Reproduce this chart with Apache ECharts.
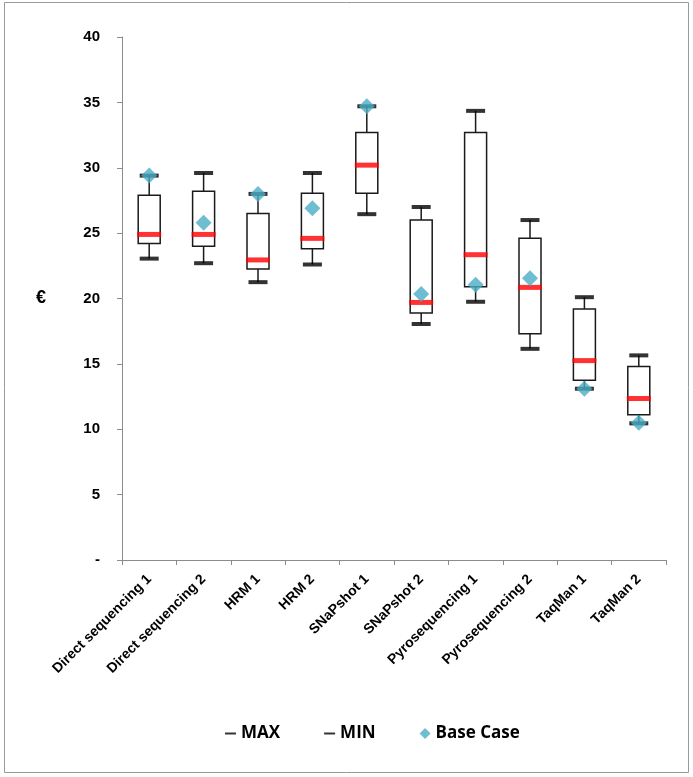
<!DOCTYPE html>
<html>
<head>
<meta charset="utf-8">
<script src="https://cdn.jsdelivr.net/npm/echarts@6/dist/echarts.min.js"></script>
<style>
  html, body { margin: 0; padding: 0; background: #fff; }
  #chart { width: 693px; height: 777px; }
</style>
</head>
<body>
<div id="chart"></div>
<script>
// values (€)
var categories = ['Direct sequencing 1', 'Direct sequencing 2', 'HRM 1', 'HRM 2', 'SNaPshot 1',
                  'SNaPshot 2', 'Pyrosequencing 1', 'Pyrosequencing 2', 'TaqMan 1', 'TaqMan 2'];
var maxVals  = [29.4, 29.6, 28.0, 29.6, 34.7, 27.0, 34.35, 26.0, 20.1, 15.65];
var minVals  = [23.05, 22.7, 21.25, 22.6, 26.45, 18.05, 19.75, 16.15, 13.1, 10.45];
var boxHigh  = [27.9, 28.2, 26.5, 28.05, 32.7, 26.0, 32.7, 24.6, 19.2, 14.8];
var boxLow   = [24.2, 24.0, 22.25, 23.8, 28.05, 18.9, 20.9, 17.3, 13.75, 11.1];
var medians  = [24.9, 24.9, 22.95, 24.6, 30.2, 19.7, 23.35, 20.85, 15.25, 12.35];
var baseCase = [29.4, 25.8, 28.0, 26.9, 34.7, 20.35, 21.05, 21.55, 13.1, 10.5];
var yTicks = { min: 0, max: 40, step: 5 };

// [category index, min, box low, box high, max]
var rangeData = categories.map(function (c, i) {
    return [i, minVals[i], boxLow[i], boxHigh[i], maxVals[i]];
});

var chart = echarts.init(document.getElementById('chart'));
var font = 'Liberation Sans, Arial, sans-serif';
var dash = 'path://M0,0h10v1.8h-10z';

function renderRange(params, api) {
    var i = api.value(0);
    var pMin = api.coord([i, api.value(1)]);
    var pLow = api.coord([i, api.value(2)]);
    var pHigh = api.coord([i, api.value(3)]);
    var pMax = api.coord([i, api.value(4)]);
    var half = 11;
    var stroke = { stroke: '#1a1a1a', lineWidth: 1.5, fill: null };
    return {
        type: 'group',
        children: [
            { type: 'line', shape: { x1: pMax[0], y1: pMax[1], x2: pHigh[0], y2: pHigh[1] }, style: stroke },
            { type: 'line', shape: { x1: pLow[0], y1: pLow[1], x2: pMin[0], y2: pMin[1] }, style: stroke },
            {
                type: 'rect',
                shape: { x: pHigh[0] - half, y: pHigh[1], width: half * 2, height: pLow[1] - pHigh[1] },
                style: { fill: '#fff', stroke: '#1a1a1a', lineWidth: 1.5 }
            }
        ]
    };
}

chart.setOption({
    animation: false,
    backgroundColor: '#fff',
    graphic: [{
        type: 'rect',
        shape: { x: 4.5, y: 2.5, width: 684, height: 770 },
        style: { fill: 'none', stroke: '#9a9a9a', lineWidth: 1 },
        silent: true
    }],
    grid: { left: 122, right: 27, top: 37, bottom: 217, containLabel: false },
    legend: {
        top: 720,
        left: 220,
        itemGap: 44,
        itemWidth: 11,
        itemHeight: 11,
        textStyle: { fontFamily: 'Open Sans, Noto Sans, sans-serif', fontWeight: 'bold', fontSize: 17, color: '#000' },
        data: [
            { name: 'MAX', icon: dash, itemStyle: { color: '#000' } },
            { name: 'MIN', icon: dash, itemStyle: { color: '#000' } },
            { name: 'Base Case', icon: 'diamond', itemStyle: { color: '#4BACC6' } }
        ]
    },
    xAxis: {
        type: 'category',
        data: categories,
        boundaryGap: true,
        axisLine: { lineStyle: { color: '#8c8c8c', width: 1 } },
        axisTick: { show: true, interval: 0, length: 5, lineStyle: { color: '#8c8c8c' } },
        axisLabel: {
            interval: 0, rotate: 45, margin: 17,
            fontFamily: font, fontWeight: 'bold', fontSize: 14, color: '#000'
        },
        splitLine: { show: false }
    },
    yAxis: {
        type: 'value',
        min: yTicks.min, max: yTicks.max, interval: yTicks.step,
        name: '€',
        nameLocation: 'middle',
        nameRotate: 0,
        nameGap: 76,
        nameTextStyle: { fontFamily: font, fontWeight: 'bold', fontSize: 18, color: '#000' },
        axisLine: { show: true, lineStyle: { color: '#8c8c8c', width: 1 } },
        axisTick: { show: true, length: 5, inside: false, lineStyle: { color: '#8c8c8c' } },
        axisLabel: {
            margin: 22,
            fontFamily: font, fontWeight: 'bold', fontSize: 15, color: '#000',
            formatter: function (v) { return v === 0 ? '-' : String(v); }
        },
        splitLine: { show: false }
    },
    series: [
        {
            name: 'Range',
            type: 'custom',
            renderItem: renderRange,
            data: rangeData,
            encode: { x: 0, y: [1, 2, 3, 4] },
            z: 2
        },
        {
            name: 'Median',
            type: 'scatter',
            data: medians,
            symbol: 'rect',
            symbolSize: [24, 5],
            itemStyle: { color: '#ff0000' },
            z: 3
        },
        {
            name: 'MAX',
            type: 'scatter',
            data: maxVals,
            symbol: 'rect',
            symbolSize: [19, 4],
            itemStyle: { color: '#000' },
            z: 3
        },
        {
            name: 'MIN',
            type: 'scatter',
            data: minVals,
            symbol: 'rect',
            symbolSize: [19, 4],
            itemStyle: { color: '#000' },
            z: 3
        },
        {
            name: 'Base Case',
            type: 'scatter',
            data: baseCase,
            symbol: 'diamond',
            symbolSize: 16,
            itemStyle: { color: '#4BACC6' },
            z: 4
        }
    ]
});
</script>
</body>
</html>
